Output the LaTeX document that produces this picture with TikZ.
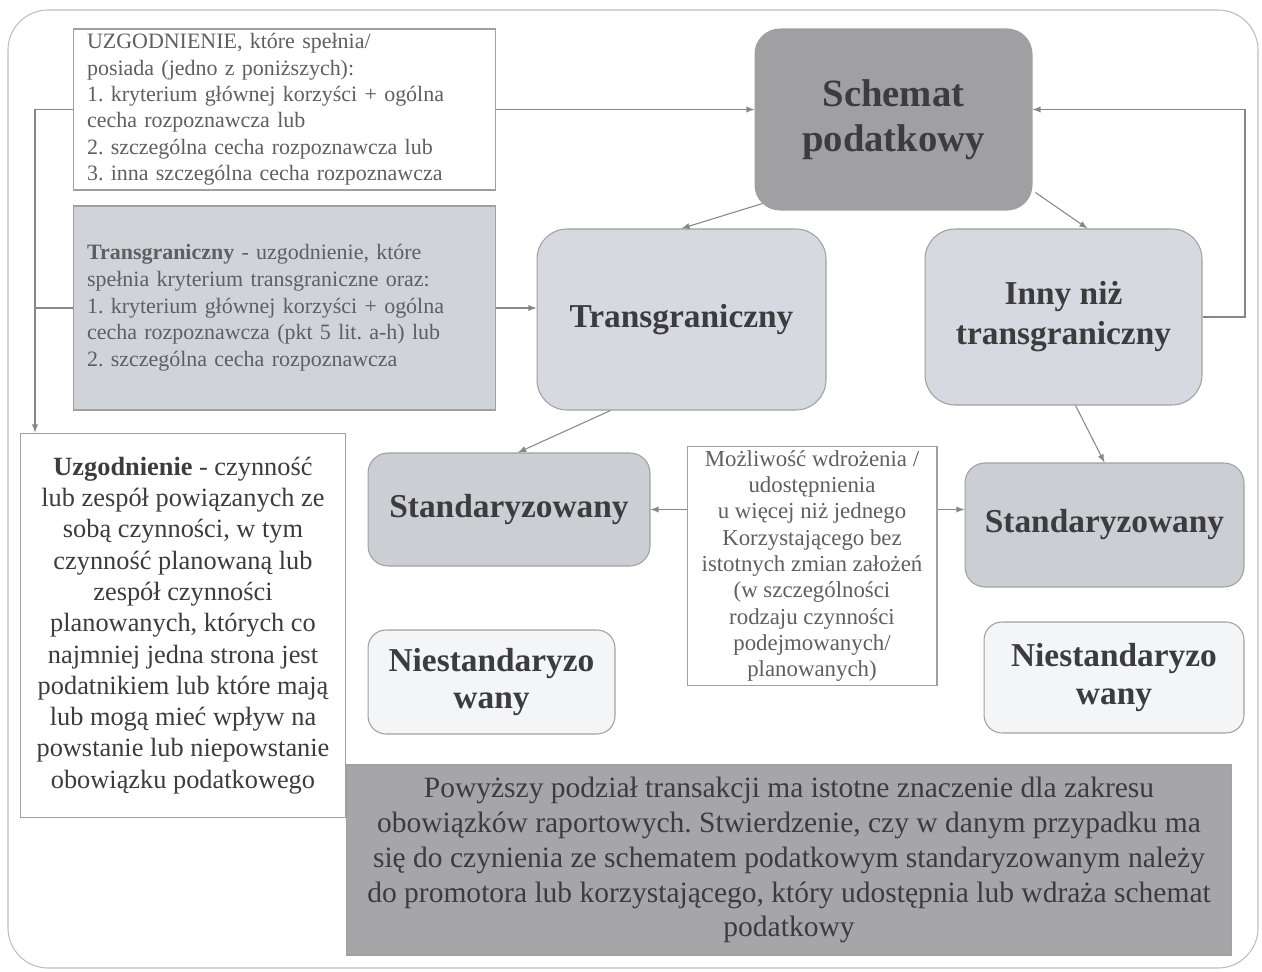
\documentclass[tikz,border=0pt]{standalone}
\usepackage{fontspec}
\setmainfont{Liberation Serif}
\usepackage{tikz}
\frenchspacing

\definecolor{ramka}{RGB}{160,160,162}
\definecolor{linia}{RGB}{135,135,138}
\definecolor{tekst}{RGB}{60,60,62}
\definecolor{tekstjasny}{RGB}{95,95,98}
\definecolor{schemc}{RGB}{160,160,162}
\definecolor{jasnyc}{RGB}{214,217,223}
\definecolor{stdc}{RGB}{203,206,211}
\definecolor{defc}{RGB}{208,211,216}
\definecolor{nstc}{RGB}{244,245,247}
\definecolor{uwagac}{RGB}{166,166,168}

\begin{document}
\begin{tikzpicture}[>=latex,x=0.02cm,y=-0.02cm,
	box/.style={draw=ramka,line width=0.6pt,inner sep=0pt,text=tekstjasny},
	rbox/.style={draw=ramka,line width=0.6pt,inner sep=0pt,align=center,text=tekst,font=\fontsize{19}{22.8}\selectfont\bfseries},
	polacz/.style={draw=linia,line width=0.6pt}]
		\useasboundingbox (0,0) rectangle (1262,972);
		\draw[draw=ramka!70,line width=0.6pt,rounded corners=0.8cm] (8,10) rectangle (1258,968);

		% lewa kolumna
		\node[box,fill=white,minimum width=8.46cm,minimum height=3.22cm,text width=7.9cm,align=left,font=\fontsize{12.5}{15}\selectfont] (warunki) at (284.5,109.5) {UZGODNIENIE, które spełnia/\\posiada (jedno z poniższych):\\1. kryterium głównej korzyści + ogólna\\cecha rozpoznawcza lub\\2. szczególna cecha rozpoznawcza lub\\3. inna szczególna cecha rozpoznawcza};
		\node[box,fill=defc,minimum width=8.46cm,minimum height=4.08cm,text width=7.9cm,align=left,font=\fontsize{12.5}{15.2}\selectfont] (trdef) at (284.5,308) {\textbf{Transgraniczny} - uzgodnienie, które\\spełnia kryterium transgraniczne oraz:\\1. kryterium głównej korzyści + ogólna\\cecha rozpoznawcza (pkt 5 lit. a-h) lub\\2. szczególna cecha rozpoznawcza};
		\node[box,fill=uwagac,minimum width=17.72cm,minimum height=3.8cm,align=center,text=tekst,font=\fontsize{16.8}{19.9}\selectfont] (uwaga) at (789,860) {Powyższy podział transakcji ma istotne znaczenie dla zakresu\\obowiązków raportowych. Stwierdzenie, czy w danym przypadku ma\\się do czynienia ze schematem podatkowym standaryzowanym należy\\do promotora lub korzystającego, który udostępnia lub wdraża schemat\\podatkowy};
		\node[box,fill=white,minimum width=6.52cm,minimum height=7.7cm,align=center,text=tekst,font=\fontsize{15}{17.8}\selectfont] (uzg) at (183,625.5) {\textbf{Uzgodnienie} - czynność\\lub zespół powiązanych ze\\sobą czynności, w tym\\czynność planowaną lub\\zespół czynności\\planowanych, których co\\najmniej jedna strona jest\\podatnikiem lub które mają\\lub mogą mieć wpływ na\\powstanie lub niepowstanie\\obowiązku podatkowego};

		% schemat i podzial
		\node[rbox,fill=schemc,minimum width=5.54cm,minimum height=3.62cm,rounded corners=0.5cm,font=\fontsize{22}{25.6}\selectfont\bfseries] (schemat) at (893.5,119.5) {Schemat\\podatkowy};
		\node[rbox,fill=jasnyc,minimum width=5.78cm,minimum height=3.62cm,rounded corners=0.6cm] (trans) at (681.5,319.5) {Transgraniczny};
		\node[rbox,fill=jasnyc,minimum width=5.54cm,minimum height=3.52cm,rounded corners=0.6cm] (inny) at (1063.5,317) {Inny niż\\transgraniczny};
		\node[rbox,fill=stdc,minimum width=5.64cm,minimum height=2.26cm,rounded corners=0.4cm] (stdL) at (509,509.5) {Standaryzowany};
		\node[rbox,fill=stdc,minimum width=5.58cm,minimum height=2.48cm,rounded corners=0.4cm] (stdR) at (1104.5,525) {Standaryzowany};
		\node[rbox,fill=nstc,minimum width=4.94cm,minimum height=2.08cm,rounded corners=0.36cm,font=\fontsize{19}{21.6}\selectfont\bfseries] (nstL) at (491.5,682) {Niestandaryzo\\wany};
		\node[rbox,fill=nstc,minimum width=5.2cm,minimum height=2.22cm,rounded corners=0.36cm,font=\fontsize{19}{21.6}\selectfont\bfseries] (nstR) at (1114,677.5) {Niestandaryzo\\wany};
		\node[box,fill=white,minimum width=5cm,minimum height=4.78cm,align=center,font=\fontsize{13}{15}\selectfont] (mozl) at (812,566) {Możliwość wdrożenia /\\udostępnienia\\u więcej niż jednego\\Korzystającego bez\\istotnych zmian założeń\\(w szczególności\\rodzaju czynności\\podejmowanych/\\planowanych)};

		% polaczenia
		\coordinate (lewa) at (35,0);
		\coordinate (prawa) at (1245,0);
		\draw[polacz,->] (warunki.east) -- (warunki.east -| schemat.west);
		\draw[polacz,->] (warunki.west) -| (lewa |- uzg.north);
		\draw[polacz] (trdef.west) -- (trdef.west -| lewa);
		\draw[polacz,->] (trdef.east) -- (trdef.east -| trans.west);
		\draw[polacz,->] (inny.east) -| (prawa |- warunki.east) -- (warunki.east -| schemat.east);
		\draw[polacz,->] ([shift={(8,-7)}]schemat.south west) -- (trans.north);
		\draw[polacz,->] ([shift={(3,-18)}]schemat.south east) -- ([xshift=0.48cm]inny.north);
		\draw[polacz,->] ([xshift=-1.42cm]trans.south) -- ([xshift=0.18cm]stdL.north);
		\draw[polacz,->] ([xshift=0.24cm]inny.south) -- (stdR.north);
		\draw[polacz,->] (mozl.west |- stdL.east) -- (stdL.east);
		\draw[polacz,->] (mozl.east |- stdL.east) -- (stdR.west |- stdL.east);

	\end{tikzpicture}
\end{document}
